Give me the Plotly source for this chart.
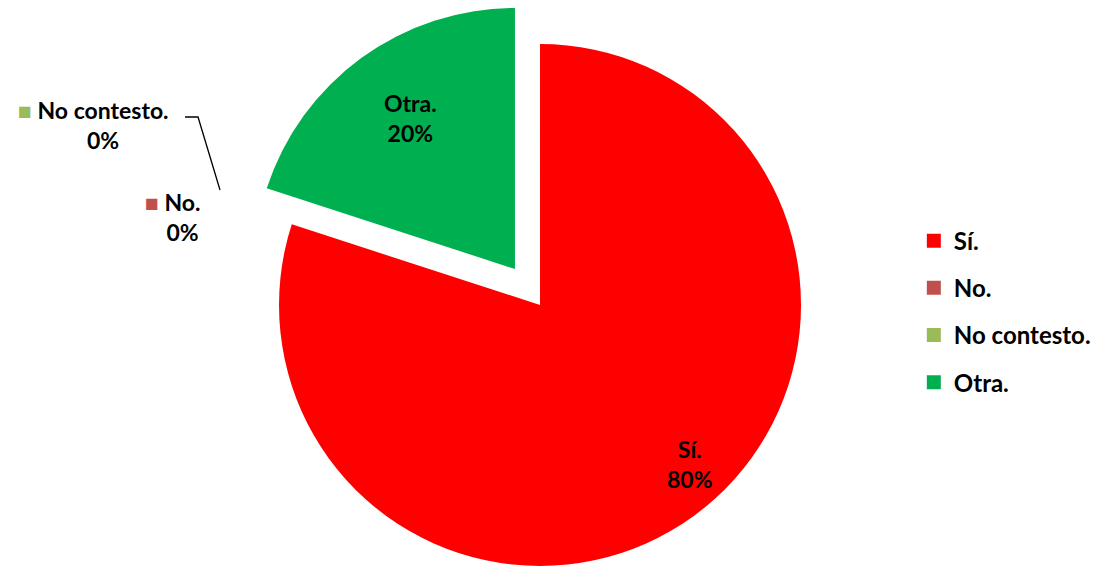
import plotly.graph_objects as go

# data
labels = ["Sí.", "No.", "No contesto.", "Otra."]
values = [80, 0, 0, 20]
colors = ["#FF0000", "#C0504D", "#9BBB59", "#00B050"]

FONT = "Lato"
W, H = 1094, 558
CLEAR = "rgba(0,0,0,0)"

total = sum(values)
pct = [f"{v / total:.0%}" for v in values]

fig = go.Figure()

# main pie: Sí. plus the two empty answers
fig.add_trace(go.Pie(
    labels=labels, values=values,
    sort=False, direction="clockwise", rotation=0,
    marker=dict(colors=colors[:3] + [CLEAR]),
    textinfo="none",
    domain=dict(x=[0.1863, 0.7863], y=[0, 0.9355]),
    showlegend=False, hoverinfo="label+percent",
))

# the exploded Otra. slice, drawn as its own pie so the main pie keeps its size
fig.add_trace(go.Pie(
    labels=labels, values=values,
    sort=False, direction="clockwise", rotation=0,
    marker=dict(colors=[CLEAR] * 3 + [colors[3]]),
    textinfo="none",
    domain=dict(x=[0.1634, 0.7634], y=[0.0645, 1]),
    showlegend=False, hoverinfo="label+percent",
))

# legend entries
for lab, col in zip(labels, colors):
    fig.add_trace(go.Scatter(
        x=[None], y=[None], mode="markers", name=lab, legendgroup=lab,
        marker=dict(symbol="square", size=14, color=col),
    ))

# data labels (Excel style, with legend keys next to the empty slices)
label_font = dict(family=FONT, size=23, color="black", weight="bold")
label_pos = [(0.6234, 0.1828), (0.1504, 0.6263), (0.0786, 0.7903), (0.3675, 0.8029)]
for i, (lab, p) in enumerate(zip(labels, pct)):
    if values[i] == 0:
        key = f"<span style='color:{colors[i]}'>■</span> "
        blank = f"<span style='color:{CLEAR}'>■</span> "
        txt = f"{key}{lab}<br>{blank}{p}"
    else:
        txt = f"{lab}<br>{p}"
    fig.add_annotation(x=label_pos[i][0], y=label_pos[i][1], xref="paper", yref="paper",
                       xanchor="center", yanchor="middle",
                       text=txt, showarrow=False, font=label_font, align="center")

# leader line for "No contesto."
fig.add_shape(type="path", xref="paper", yref="paper",
              path="M 0.1618 0.8047 L 0.1737 0.8047 L 0.1938 0.6738",
              line=dict(color="black", width=1.3))

fig.update_layout(
    width=W, height=H,
    margin=dict(l=0, r=0, t=0, b=0),
    paper_bgcolor="white", plot_bgcolor="white",
    xaxis=dict(visible=False), yaxis=dict(visible=False),
    legend=dict(x=0.828, y=0.456, xanchor="left", yanchor="middle",
                tracegroupgap=13,
                font=dict(family=FONT, size=24, color="black", weight="bold")),
)

fig.write_html("out.html")
